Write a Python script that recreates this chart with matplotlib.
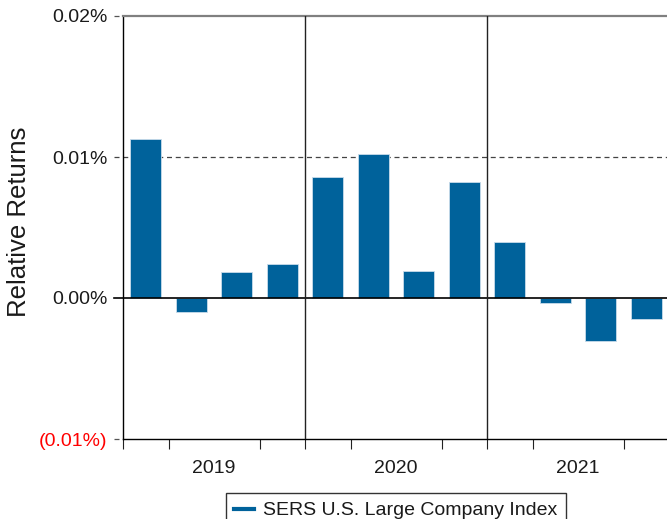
import matplotlib
matplotlib.use("Agg")
import matplotlib.pyplot as plt
import matplotlib.transforms as mtransforms

plt.rcParams['font.family'] = ['Liberation Sans', 'DejaVu Sans']

# Quarterly relative returns (in %), 2019 Q1 .. 2021 Q4
years = ["2019", "2020", "2021"]
quarters = ["Q1", "Q2", "Q3", "Q4"]
relative_returns = [0.01126, -0.00100, 0.00185, 0.00239,
                    0.00856, 0.01021, 0.00194, 0.00822,
                    0.00395, -0.00038, -0.00306, -0.00152]
y_ticks = [-0.01, 0.0, 0.01, 0.02]
y_tick_labels = ["(0.01%)", "0.00%", "0.01%", "0.02%"]
series_name = "SERS U.S. Large Company Index"

bar_color = "#00629B"

fig = plt.figure(figsize=(6.67, 5.19), dpi=100)
ax = fig.add_axes([123 / 667, 1 - 439 / 519, 546 / 667, 423 / 519])

n = len(relative_returns)
xpos = [i + 0.5 for i in range(n)]
ax.bar(xpos, relative_returns, width=0.69, color=bar_color,
       edgecolor="#c9dcea", linewidth=0.6, zorder=3)

ax.set_xlim(0, n)
ax.set_ylim(y_ticks[0], y_ticks[-1])

# y ticks: labels only, the marks are drawn as short stubs below
ax.set_yticks(y_ticks)
ax.set_yticklabels(y_tick_labels, fontsize=14)
ax.tick_params(axis="y", length=0, pad=11)
for lbl, v in zip(ax.get_yticklabels(), y_ticks):
    lbl.set_color("#ff0000" if v < 0 else "#1a1a1a")

# x axis: year labels centred under each year, quarter ticks as minor ticks
nq = len(quarters)
ax.set_xticks([nq * k + nq / 2 for k in range(len(years))])
ax.set_xticklabels(years, fontsize=14, color="#1a1a1a")
ax.set_xticks(range(n + 1), minor=True)
ax.tick_params(axis="x", which="major", length=0, pad=15)
ax.tick_params(axis="x", which="minor", length=7.5, width=0.8,
               direction="out", color="#222222")

for side in ("top", "right"):
    ax.spines[side].set_visible(False)
ax.spines["left"].set_linewidth(1.0)
ax.spines["bottom"].set_linewidth(1.0)

trans = mtransforms.blended_transform_factory(ax.transAxes, ax.transData)
stub = -9 / 546
# top line
ax.plot([0, 1.01], [y_ticks[-1]] * 2, transform=trans, color="#808080",
        lw=1.6, clip_on=False, zorder=4)
# dashed stubs and gridlines
for v in y_ticks:
    if v == 0:
        ax.plot([stub, 1.01], [v, v], transform=trans, color="black",
                lw=1.2, clip_on=False, zorder=4)
    elif v == 0.01:
        ax.plot([stub, 1.01], [v, v], transform=trans, color="#444444",
                lw=0.9, ls=(0, (4, 3)), clip_on=False, zorder=2)
    else:
        ax.plot([stub, 0], [v, v], transform=trans, color="#555555",
                lw=0.9, ls=(0, (4, 3)), clip_on=False, zorder=2)

# year separators
for k in range(1, len(years)):
    ax.axvline(nq * k, color="#222222", lw=1.0, zorder=4)

# legend
handle = matplotlib.lines.Line2D([], [], color=bar_color, lw=3)
leg = ax.legend([handle], [series_name], loc="upper center",
                bbox_to_anchor=(0.5, (439 - 493) / 423),
                fontsize=14, frameon=True, fancybox=False,
                handlelength=1.0, handletextpad=0.5, borderpad=0.45,
                borderaxespad=0)
leg.get_frame().set_edgecolor("black")
leg.get_frame().set_linewidth(1.0)
for t in leg.get_texts():
    t.set_color("#1a1a1a")

fig.text(19 / 667, 1 - 222 / 519, "Relative Returns", rotation=90,
         ha="center", va="center", fontsize=18.5, color="#1a1a1a")

fig.savefig("out.png", dpi=100)
